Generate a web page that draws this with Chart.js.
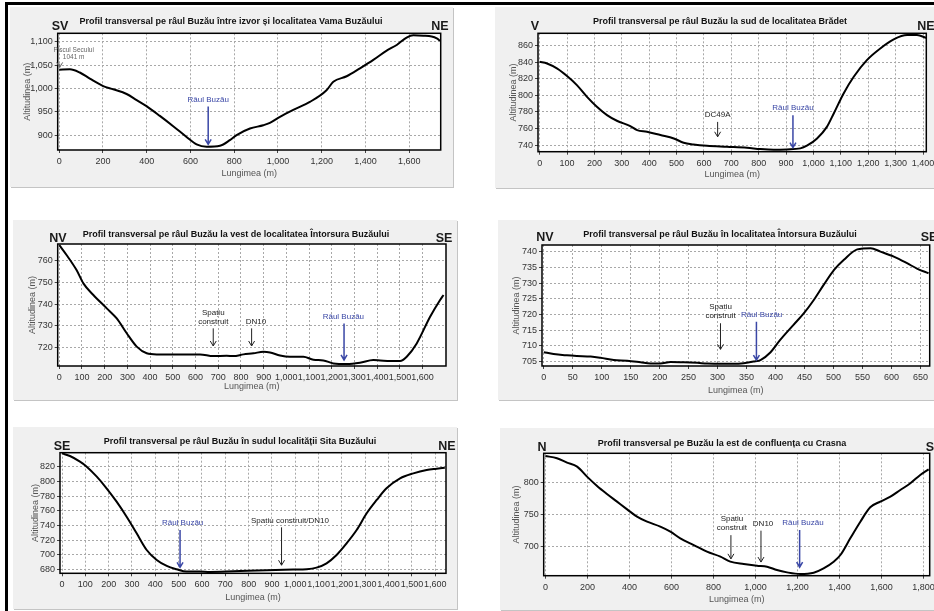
<!DOCTYPE html>
<html lang="ro">
<head>
  <meta charset="UTF-8">
  <title>Profile transversale pe râul Buzău</title>
  <script src="https://cdn.jsdelivr.net/npm/chart.js"></script>
  <style>
    html, body {
      margin: 0;
      padding: 0;
      width: 934px;
      height: 611px;
      overflow: hidden;
      background: #fff;
      font-family: "Liberation Sans", Arial, sans-serif;
    }
    .edge-top { position: absolute; left: 5px; top: 2px; width: 929px; height: 3px; background: #000; }
    .edge-left { position: absolute; left: 5px; top: 2px; width: 3px; height: 609px; background: #000; }
    .panel {
      position: absolute;
      background: #f0f0f0;
      box-shadow: 1px 1px 0 #c4c4c4;
    }
    .panel canvas { position: absolute; left: 0; top: 0; }
    .txt {
      position: absolute;
      transform: translate(-50%, -50%);
      white-space: nowrap;
      color: #111;
    }
    .title { font: bold 9px "Liberation Sans Narrow", "Arial Narrow", Arial, sans-serif; }
    .dir { font: bold 12.5px "Liberation Sans", Arial, sans-serif; color: #1a1a1a; }
  </style>
</head>
<body>
  <div class="edge-top"></div>
  <div class="edge-left"></div>

  <div class="panel" style="left:10px;top:7px;width:443px;height:180px"><canvas id="c1"></canvas></div>
  <div class="panel" style="left:495px;top:7px;width:450px;height:181px"><canvas id="c2"></canvas></div>
  <div class="panel" style="left:13px;top:220px;width:444px;height:180px"><canvas id="c3"></canvas></div>
  <div class="panel" style="left:498px;top:220px;width:447px;height:180px"><canvas id="c4"></canvas></div>
  <div class="panel" style="left:13px;top:427px;width:444px;height:182px"><canvas id="c5"></canvas></div>
  <div class="panel" style="left:500px;top:428px;width:445px;height:182px"><canvas id="c6"></canvas></div>

  <div class="txt title" style="left:231px;top:21px">Profil transversal pe râul Buzău între izvor și localitatea Vama Buzăului</div>
  <div class="txt title" style="left:720px;top:21px">Profil transversal pe râul Buzău la sud de localitatea Brădet</div>
  <div class="txt title" style="left:236px;top:234px">Profil transversal pe râul Buzău la vest de localitatea Întorsura Buzăului</div>
  <div class="txt title" style="left:720px;top:234px">Profil transversal pe râul Buzău în localitatea Întorsura Buzăului</div>
  <div class="txt title" style="left:240px;top:441px">Profil transversal pe râul Buzău în sudul localității Sita Buzăului</div>
  <div class="txt title" style="left:722px;top:443px">Profil transversal pe Buzău la est de confluența cu Crasna</div>

  <div class="txt dir" style="left:60px;top:26px">SV</div>
  <div class="txt dir" style="left:440px;top:26px">NE</div>
  <div class="txt dir" style="left:535px;top:26px">V</div>
  <div class="txt dir" style="left:926px;top:26px">NE</div>
  <div class="txt dir" style="left:58px;top:238px">NV</div>
  <div class="txt dir" style="left:444px;top:238px">SE</div>
  <div class="txt dir" style="left:545px;top:237px">NV</div>
  <div class="txt dir" style="left:929px;top:237px">SE</div>
  <div class="txt dir" style="left:62px;top:446px">SE</div>
  <div class="txt dir" style="left:447px;top:446px">NE</div>
  <div class="txt dir" style="left:542px;top:447px">N</div>
  <div class="txt dir" style="left:930px;top:447px">S</div>

  <script>
    // 1. izvor - Vama Buzăului
    const p1Dist = [0, 49, 94, 140, 201, 247, 308, 354, 399, 460, 521, 582, 628, 674, 735, 780, 811, 872, 933, 963, 1009, 1070, 1146, 1222, 1253, 1314, 1375, 1436, 1497, 1543, 1588, 1619, 1665, 1703, 1726, 1741];
    const p1Alt = [1040, 1041, 1034, 1021, 1005, 998, 988, 975, 962, 941, 919, 896, 880, 875, 877, 889, 900, 914, 921, 926, 939, 954, 971, 996, 1014, 1026, 1043, 1061, 1081, 1093, 1109, 1114, 1113, 1111, 1107, 1102];
    const p1XTicks = [0, 200, 400, 600, 800, 1000, 1200, 1400, 1600];
    const p1YTicks = [900, 950, 1000, 1050, 1100];
    const p1Marks = [
      { text: ["Râul Buzău"], kind: "river", x: 681, top: 961, bottom: 880 },
      { text: ["Piscul Secului", "1041 m"], kind: "note", x: 2, labelX: 66, top: 1053, bottom: 1045 }
    ];

    // 2. sud de Brădet
    const p2Dist = [0, 27, 63, 100, 136, 173, 209, 246, 282, 331, 356, 392, 441, 490, 526, 562, 611, 684, 757, 806, 855, 903, 952, 976, 1013, 1049, 1074, 1110, 1147, 1195, 1244, 1293, 1342, 1378, 1412];
    const p2Alt = [840.6, 838.6, 832.6, 823.3, 812.4, 798.3, 786.3, 776.2, 769.4, 762.9, 758.1, 756.1, 752.1, 748, 742.8, 740.8, 739.2, 738, 736.8, 735.2, 734.4, 734.8, 736, 739.2, 748, 762, 778.2, 802.4, 822.5, 842.6, 856.7, 867.6, 872.8, 872.8, 869.6];
    const p2XTicks = [0, 100, 200, 300, 400, 500, 600, 700, 800, 900, 1000, 1100, 1200, 1300, 1400];
    const p2YTicks = [740, 760, 780, 800, 820, 840, 860];
    const p2Marks = [
      { text: ["DC49A"], kind: "site", x: 650, top: 768, bottom: 750 },
      { text: ["Râul Buzău"], kind: "river", x: 925, top: 776, bottom: 737 }
    ];

    // 3. vest de Întorsura Buzăului
    const p3Dist = [0, 32, 76, 106, 150, 209, 253, 297, 341, 385, 429, 502, 620, 678, 737, 767, 811, 855, 899, 928, 972, 1016, 1075, 1119, 1163, 1207, 1266, 1324, 1383, 1413, 1457, 1501, 1530, 1574, 1633, 1677, 1692];
    const p3Alt = [767.4, 762.8, 755.8, 749.6, 744.2, 738, 733.3, 726.4, 720.2, 717.1, 716.6, 716.6, 716.6, 715.8, 716, 715.8, 716.6, 717.1, 717.8, 717.5, 716.1, 715.5, 715.5, 714.1, 713.8, 712.4, 712.1, 712.7, 714, 713.8, 713.5, 713.5, 715.5, 721.7, 734.1, 741.9, 744.2];
    const p3XTicks = [0, 100, 200, 300, 400, 500, 600, 700, 800, 900, 1000, 1100, 1200, 1300, 1400, 1500, 1600];
    const p3YTicks = [720, 730, 740, 750, 760];
    const p3Marks = [
      { text: ["Spațiu", "construit"], kind: "site", x: 678, top: 728.7, bottom: 720.5 },
      { text: ["DN10"], kind: "site", x: 847, labelX: 866, top: 728.7, bottom: 720.5 },
      { text: ["Râul Buzău"], kind: "river", x: 1254, labelX: 1251, top: 731, bottom: 714 }
    ];

    // 4. în Întorsura Buzăului
    const p4Dist = [0, 17, 40, 57, 81, 98, 121, 144, 167, 184, 201, 219, 242, 265, 282, 305, 328, 345, 362, 374, 391, 408, 431, 449, 466, 483, 501, 518, 541, 564, 581, 604, 627, 644, 664];
    const p4Alt = [708, 707.4, 707, 706.8, 706.6, 706.2, 705.5, 705.3, 704.8, 704.4, 704.4, 704.9, 704.8, 704.6, 704.4, 704.3, 704.3, 704.5, 705, 705.5, 707.9, 711.9, 716.7, 720.4, 724.6, 729.4, 734.2, 737.4, 740.7, 741.1, 740, 738.4, 736.3, 734.6, 733.1];
    const p4XTicks = [0, 50, 100, 150, 200, 250, 300, 350, 400, 450, 500, 550, 600, 650];
    const p4YTicks = [705, 710, 715, 720, 725, 730, 735, 740];
    const p4Marks = [
      { text: ["Spațiu", "construit"], kind: "site", x: 305, top: 717.2, bottom: 708.9 },
      { text: ["Râul Buzău"], kind: "river", x: 367, labelX: 376, top: 717.7, bottom: 705.5 }
    ];

    // 5. sudul Sita Buzăului
    const p5Dist = [0, 34, 77, 106, 149, 191, 234, 277, 320, 363, 406, 449, 491, 534, 591, 634, 734, 877, 991, 1049, 1091, 1134, 1177, 1220, 1263, 1306, 1349, 1391, 1449, 1506, 1563, 1606, 1641];
    const p5Alt = [838.1, 834.5, 826.8, 820, 806.4, 790.6, 772.4, 752, 729.4, 706.7, 693.1, 685, 680.5, 677.3, 677.3, 676.8, 677.7, 679.1, 680, 680.5, 682.7, 688.6, 699.9, 715.8, 733.9, 756.6, 774.7, 790.6, 804.1, 810.9, 815.5, 817.3, 818.6];
    const p5XTicks = [0, 100, 200, 300, 400, 500, 600, 700, 800, 900, 1000, 1100, 1200, 1300, 1400, 1500, 1600];
    const p5YTicks = [680, 700, 720, 740, 760, 780, 800, 820];
    const p5Marks = [
      { text: ["Râul Buzău"], kind: "river", x: 506, labelX: 517, top: 734, bottom: 683 },
      { text: ["Spațiu construit/DN10"], kind: "site", x: 941, labelX: 977, top: 737.5, bottom: 686 }
    ];

    // 6. est de confluența cu Crasna
    const p6Dist = [0, 55, 103, 151, 198, 246, 293, 341, 389, 436, 484, 547, 595, 642, 706, 769, 833, 880, 944, 1007, 1055, 1102, 1150, 1213, 1277, 1324, 1372, 1404, 1451, 1499, 1546, 1594, 1642, 1689, 1737, 1784, 1824];
    const p6Alt = [841.7, 838, 831.3, 825, 809.4, 794.8, 782.3, 770.3, 758.3, 746.9, 739, 731.3, 723.4, 713, 702.6, 692.2, 684.4, 676.6, 672.9, 670.3, 668.8, 663.5, 659.9, 657.3, 659.4, 666.1, 676.6, 687, 713, 739, 761.5, 770.3, 778.1, 788.5, 799, 812, 820.8];
    const p6XTicks = [0, 200, 400, 600, 800, 1000, 1200, 1400, 1600, 1800];
    const p6YTicks = [700, 750, 800];
    const p6Marks = [
      { text: ["Spațiu", "construit"], kind: "site", x: 883, labelX: 888, top: 718, bottom: 681 },
      { text: ["DN10"], kind: "site", x: 1026, labelX: 1036, top: 725, bottom: 676 },
      { text: ["Râul Buzău"], kind: "river", x: 1210, labelX: 1226, top: 726, bottom: 668 }
    ];

    const narrow = '"Liberation Sans Narrow", "Arial Narrow", Arial, sans-serif';

    // white plot area, black frame, arrows with labels
    const marksPlugin = {
      id: "profileMarks",
      beforeDraw(chart) {
        const { ctx, chartArea: a } = chart;
        ctx.save();
        ctx.fillStyle = "#fff";
        ctx.fillRect(a.left, a.top, a.width, a.height);
        ctx.restore();
      },
      afterDatasetsDraw(chart, args, opts) {
        const { ctx, chartArea: a, scales: { x, y } } = chart;
        ctx.save();
        ctx.strokeStyle = "#000";
        ctx.lineWidth = 1.5;
        ctx.strokeRect(a.left, a.top, a.width, a.height);
        (opts.items || []).forEach(m => {
          const color = m.kind === "river" ? "#3a47a6" : m.kind === "note" ? "#666" : "#222";
          const px = x.getPixelForValue(m.x);
          const y1 = y.getPixelForValue(m.top);
          const y2 = y.getPixelForValue(m.bottom);
          ctx.strokeStyle = color;
          ctx.lineWidth = m.kind === "river" ? 1.5 : 1;
          ctx.beginPath();
          ctx.moveTo(px, y1);
          ctx.lineTo(px, y2);
          ctx.moveTo(px - 3, y2 - 5);
          ctx.lineTo(px, y2);
          ctx.lineTo(px + 3, y2 - 5);
          ctx.stroke();
          const size = m.kind === "note" ? 6.5 : 8;
          ctx.font = size + "px " + narrow;
          ctx.fillStyle = color;
          ctx.textAlign = "center";
          ctx.textBaseline = "bottom";
          const lx = x.getPixelForValue(m.labelX !== undefined ? m.labelX : m.x);
          m.text.forEach((t, i) => {
            ctx.fillText(t, lx, y1 - 3 - (m.text.length - 1 - i) * (size + 1));
          });
        });
        ctx.restore();
      }
    };

    function makeProfile(id, dist, alt, xTicks, yTicks, xr, yr, marks, box) {
      const ctx = document.getElementById(id).getContext("2d");
      new Chart(ctx, {
        type: "line",
        data: {
          datasets: [{
            data: dist.map((d, i) => ({ x: d, y: alt[i] })),
            borderColor: "#000",
            borderWidth: 2,
            pointRadius: 0,
            cubicInterpolationMode: "monotone",
            fill: false
          }]
        },
        options: {
          responsive: true,
          maintainAspectRatio: false,
          animation: false,
          layout: { padding: { top: box.top, right: box.right, left: 0, bottom: 0 } },
          plugins: {
            legend: { display: false },
            tooltip: { enabled: false },
            profileMarks: { items: marks }
          },
          scales: {
            x: {
              type: "linear",
              min: xr[0],
              max: xr[1],
              afterBuildTicks: s => { s.ticks = xTicks.map(v => ({ value: v })); },
              afterFit: s => { s.height = box.xh; },
              ticks: {
                autoSkip: false,
                maxRotation: 0,
                padding: 3,
                color: "#333",
                font: { family: narrow, size: 9 },
                callback: v => v.toLocaleString("en-US")
              },
              grid: { color: "#a8a8a8", lineWidth: 1, tickLength: 3, tickColor: "#444" },
              border: { display: false, dash: [2, 2] },
              title: {
                display: true,
                text: "Lungimea (m)",
                color: "#555",
                font: { family: "Liberation Sans, Arial, sans-serif", size: 9 },
                padding: { top: 0, bottom: box.xt - 5.4 }
              }
            },
            y: {
              type: "linear",
              min: yr[0],
              max: yr[1],
              afterBuildTicks: s => { s.ticks = yTicks.map(v => ({ value: v })); },
              afterFit: s => { s.width = box.yw; },
              ticks: {
                padding: 2,
                color: "#333",
                font: { family: narrow, size: 9 },
                callback: v => v.toLocaleString("en-US")
              },
              grid: { color: "#a8a8a8", lineWidth: 1, tickLength: 3, tickColor: "#444" },
              border: { display: false, dash: [2, 2] },
              title: {
                display: true,
                text: "Altitudinea (m)",
                color: "#555",
                font: { family: "Liberation Sans, Arial, sans-serif", size: 9 },
                padding: { top: box.yt - 5.4, bottom: 0 }
              }
            }
          }
        },
        plugins: [marksPlugin]
      });
    }

    makeProfile("c1", p1Dist, p1Alt, p1XTicks, p1YTicks, [-7, 1744], [868, 1118], p1Marks,
      { top: 26.3, right: 12.3, xh: 37, yw: 47.7, xt: 13, yt: 18 });
    makeProfile("c2", p2Dist, p2Alt, p2XTicks, p2YTicks, [-6, 1412], [732, 875], p2Marks,
      { top: 26.3, right: 18.7, xh: 36.3, yw: 43, xt: 13, yt: 18.7 });
    makeProfile("c3", p3Dist, p3Alt, p3XTicks, p3YTicks, [-7, 1703], [711.2, 767.9], p3Marks,
      { top: 24, right: 11, xh: 34, yw: 44.7, xt: 13.3, yt: 19.7 });
    makeProfile("c4", p4Dist, p4Alt, p4XTicks, p4YTicks, [-3, 666], [703.6, 742.1], p4Marks,
      { top: 25, right: 15.3, xh: 34, yw: 44, xt: 9, yt: 18.3 });
    makeProfile("c5", p5Dist, p5Alt, p5XTicks, p5YTicks, [-8.6, 1646], [675, 839], p5Marks,
      { top: 25.7, right: 11, xh: 35.7, yw: 47, xt: 11.7, yt: 23 });
    makeProfile("c6", p6Dist, p6Alt, p6XTicks, p6YTicks, [-8, 1829], [654.7, 845.8], p6Marks,
      { top: 25.3, right: 15.3, xh: 34.3, yw: 43.7, xt: 10, yt: 17 });
  </script>
</body>
</html>
